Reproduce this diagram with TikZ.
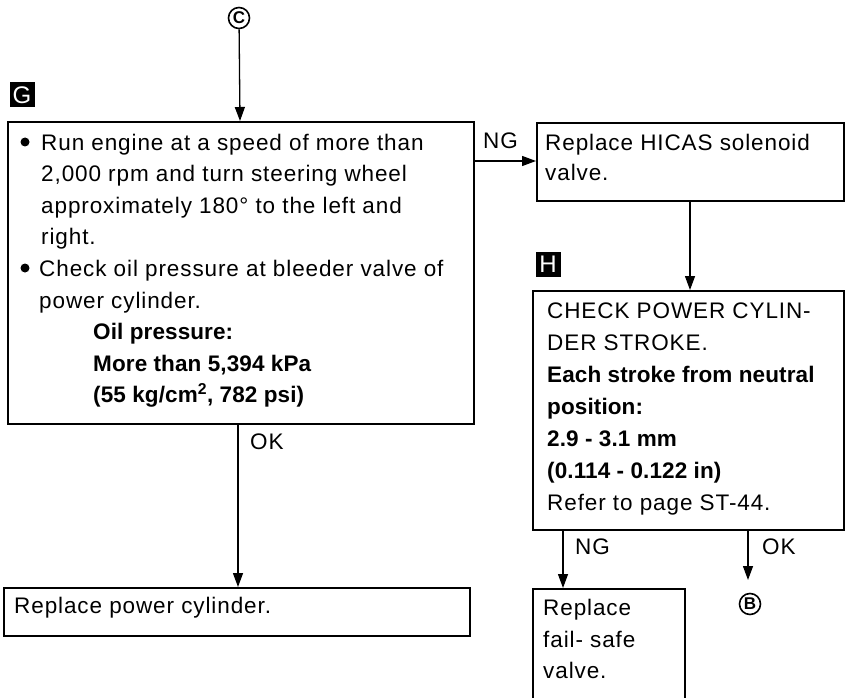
\documentclass[tikz,border=0pt]{standalone}
\usepackage{fontspec}
\setmainfont{Liberation Sans}[LetterSpace=4, BoldFeatures={LetterSpace=0.5}]
\usetikzlibrary{arrows.meta}
\begin{document}
\begin{tikzpicture}[x=1pt,y=-1pt,
  box/.style={draw, line width=1.8pt, inner sep=0, anchor=north west},
  txt/.style={anchor=base west, inner sep=0, font=\fontsize{22.5}{26}\selectfont},
  btxt/.style={anchor=base west, inner sep=0, font=\fontsize{22.5}{26}\selectfont\bfseries},
  arr/.style={line width=1.3pt, -{Triangle[length=14pt,width=10pt]}},
  tag/.style={fill=black, text=white, minimum size=25pt, inner sep=0, font=\fontsize{24}{24}\selectfont},
  circ/.style={circle, draw, line width=1.6pt, minimum size=21pt, inner sep=0, font=\fontsize{17}{17}\selectfont\bfseries},
  dot/.style={circle, fill, minimum size=9pt, inner sep=0}]
\clip (0,0) rectangle (851,698);
\fill[white] (0,0) rectangle (851,698);

% boxes
\node[box, minimum width=466pt, minimum height=302pt] (G) at (7,121) {};
\node[box, minimum width=307pt, minimum height=78pt] (R1) at (536,122) {};
\node[box, minimum width=311pt, minimum height=239pt] (H) at (532,290) {};
\node[box, minimum width=466pt, minimum height=48pt] (P) at (3,587) {};
\node[box, minimum width=152pt, minimum height=130pt] (F) at (532,588) {};

% tags
\node[tag] (tagG) at (22,95) {G};
\node[tag] (tagH) at (548,264) {H};

% circled connectors
\node[circ] (C) at (239,18) {C};
\node[circ] (B) at (750,604) {B};

% G box text
\node[dot] (gb1) at (25,142) {};
\node[txt] (g1) at (41,150) {Run engine at a speed of more than};
\node[txt] (g2) at (41,181) {2,000 rpm and turn steering wheel};
\node[txt] (g3) at (41,213) {approximately 180° to the left and};
\node[txt] (g4) at (41,244) {right.};
\node[dot] (gb2) at (25,268) {};
\node[txt] (g5) at (39,276) {Check oil pressure at bleeder valve of};
\node[txt] (g6) at (39,308) {power cylinder.};
\node[btxt] (g7) at (93,339) {Oil pressure:};
\node[btxt] (g8) at (93,371) {More than 5,394 kPa};
\node[btxt] (g9) at (93,402) {(55 kg/cm\textsuperscript{2}, 782 psi)};

% HICAS box text
\node[txt] (r1) at (545,150) {Replace HICAS solenoid};
\node[txt] (r2) at (545,180) {valve.};

% H box text
\node[txt] (h1) at (547,318) {CHECK POWER CYLIN-};
\node[txt] (h2) at (547,350) {DER STROKE.};
\node[btxt] (h3) at (547,382) {Each stroke from neutral};
\node[btxt] (h4) at (547,414) {position:};
\node[btxt] (h5) at (547,446) {2.9 - 3.1 mm};
\node[btxt] (h6) at (547,478) {(0.114 - 0.122 in)};
\node[txt] (h7) at (547,510) {Refer to page ST-44.};

% fail-safe box text
\node[txt] (f1) at (543,615) {Replace};
\node[txt] (f2) at (543,647) {fail- safe};
\node[txt] (f3) at (543,678) {valve.};

% power cylinder box text
\node[txt] (p1) at (14,613) {Replace power cylinder.};

% labels
\node[txt] (ngG) at (483,148) {NG};
\node[txt] (okG) at (250,449) {OK};
\node[txt] (ngH) at (575,554) {NG};
\node[txt] (okH) at (762,554) {OK};

% connector helper coordinates
\coordinate (xg) at (240,0);
\coordinate (xp) at (238,0);
\coordinate (yng) at (0,161);
\coordinate (xh) at (690,0);
\coordinate (xf) at (563,0);
\coordinate (xb) at (748,0);
\coordinate (bend) at (748,580);

% connectors
\draw[arr] (C) -- (G.north -| xg);
\draw[arr] (G.east |- yng) -- (R1.west |- yng);
\draw[arr] (R1.south -| xh) -- (H.north -| xh);
\draw[arr] (G.south -| xp) -- (P.north -| xp);
\draw[arr] (H.south -| xf) -- (F.north -| xf);
\draw[arr] (H.south -| xb) -- (bend);
\end{tikzpicture}
\end{document}
